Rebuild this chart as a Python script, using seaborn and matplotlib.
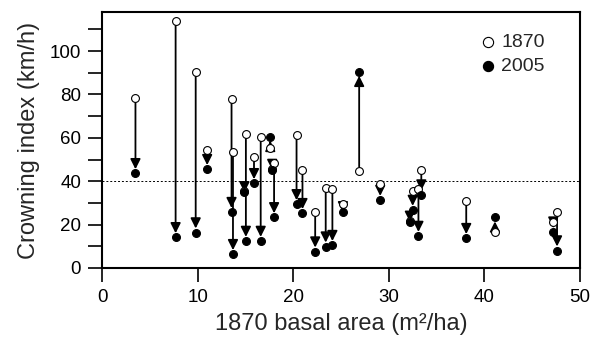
import matplotlib
matplotlib.use("Agg")
import matplotlib.pyplot as plt
import seaborn as sns
import pandas as pd
import numpy as np

# Data
basal_area = [3.5, 7.7, 9.8, 11.0, 13.55, 13.7, 14.9, 15.05, 15.9, 16.6, 17.6, 17.8, 18.0,
              20.35, 20.97, 22.3, 23.4, 24.1, 25.2, 26.9, 29.1, 32.2, 32.5, 33.1, 33.4,
              38.1, 41.1, 47.2, 47.6]
ci_1870 = [78.2, 114.0, 90.5, 54.4, 77.9, 53.3, 35.5, 61.6, 51.3, 60.5, 55.1, 45.8, 48.2,
           61.3, 45.2, 25.7, 37.0, 36.3, 29.4, 44.8, 38.6, 21.8, 35.6, 36.5, 45.2,
           31.0, 16.7, 21.3, 25.7]
ci_2005 = [43.6, 14.1, 16.3, 45.5, 25.7, 6.3, 34.9, 12.4, 39.0, 12.4, 60.5, 45.2, 23.3,
           29.3, 25.2, 7.5, 9.8, 10.5, 25.7, 90.5, 31.3, 21.3, 26.7, 14.7, 33.8,
           13.7, 23.4, 16.7, 8.0]
threshold = 40
x_ticks = [0, 10, 20, 30, 40, 50]
y_ticks = [0, 10, 20, 30, 40, 50, 60, 70, 80, 90, 100, 110]
y_ticklabels = ["0", "", "20", "", "40", "", "60", "", "80", "", "100", ""]

df = pd.DataFrame({"ba": basal_area, "y1870": ci_1870, "y2005": ci_2005})

sns.set_theme(style="ticks")
plt.rcParams["font.family"] = ["Liberation Sans", "DejaVu Sans"]

fig = plt.figure(figsize=(5.96, 3.43), dpi=100)
ax = fig.add_axes([102 / 596, 1 - 268 / 343, (580 - 102) / 596, (268 - 12) / 343])

ax.axhline(threshold, color="black", lw=0.7, ls=(0, (2, 2)), zorder=1)

# arrows from 1870 to 2005
for xa, y0, y1 in zip(df["ba"], df["y1870"], df["y2005"]):
    ax.annotate("", xy=(xa, y1), xytext=(xa, y0),
                arrowprops=dict(arrowstyle="-|>,head_length=0.6,head_width=0.3",
                                color="black", lw=1.3, shrinkA=3, shrinkB=3,
                                mutation_scale=10),
                zorder=2)

sns.scatterplot(data=df, x="ba", y="y1870", ax=ax, marker="o", s=32,
                facecolor="white", edgecolor="black", linewidth=0.8, zorder=3,
                label="1870")
sns.scatterplot(data=df, x="ba", y="y2005", ax=ax, marker="o", s=32,
                color="black", edgecolor="black", linewidth=0.8, zorder=4,
                label="2005")

ax.set_xlim(0, 50)
ax.set_ylim(0, 118)
ax.set_xticks(x_ticks)
ax.set_yticks(y_ticks)
ax.set_yticklabels(y_ticklabels)
ax.tick_params(axis="both", direction="out", length=10, width=1.2, labelsize=13.5,
               color="black", labelcolor="black", pad=5)
for s in ax.spines.values():
    s.set_visible(True)
    s.set_linewidth(1.5)
    s.set_color("black")

ax.set_xlabel("1870 basal area (m\u00b2/ha)", fontsize=17, labelpad=5)
ax.set_ylabel("Crowning index (km/h)", fontsize=17, labelpad=7)

leg = ax.legend(loc="upper right", frameon=False, fontsize=14, handletextpad=0.1,
                borderaxespad=0.3, labelspacing=0.35, handlelength=1.2,
                markerscale=1.3, bbox_to_anchor=(0.955, 0.97))

fig.savefig("out.png", dpi=100)
